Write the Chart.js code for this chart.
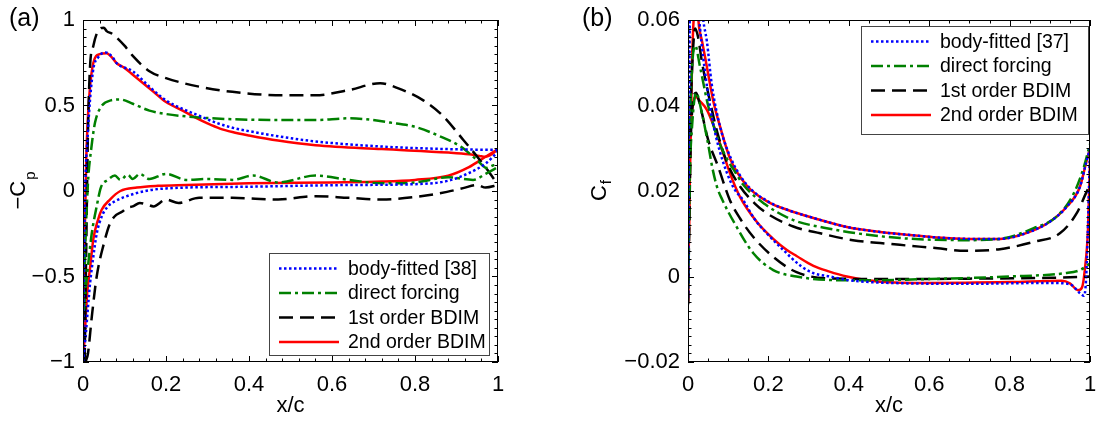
<!DOCTYPE html>
<html>
<head>
<meta charset="utf-8">
<script src="https://cdn.jsdelivr.net/npm/chart.js@4.4.0/dist/chart.umd.min.js"></script>
<style>
  body { margin: 0; background: #fff; }
  #wrap { position: relative; width: 1097px; height: 423px; }
  canvas { position: absolute; top: 0; }
  #chartA { left: 0; }
  #chartB { left: 548px; }
</style>
</head>
<body>
<div id="wrap">
  <canvas id="chartA" width="548" height="423"></canvas>
  <canvas id="chartB" width="549" height="423"></canvas>
</div>
<script>
/* ---- panel (a): -Cp along the chord, upper and lower surface ---- */
const cpBodyUpX = [0, 0.004, 0.012, 0.024, 0.036, 0.055, 0.072, 0.08, 0.12, 0.16, 0.2, 0.24, 0.28, 0.32, 0.36, 0.4, 0.47, 0.56, 0.72, 0.88, 1.0];
const cpBodyUpY = [-1, -0.14, 0.35, 0.70, 0.78, 0.81, 0.78, 0.75, 0.70, 0.61, 0.53, 0.48, 0.44, 0.40, 0.37, 0.35, 0.32, 0.29, 0.26, 0.245, 0.24];
const cpBodyLoX = [0, 0.007, 0.012, 0.017, 0.024, 0.033, 0.045, 0.06, 0.077, 0.1, 0.15, 0.2, 0.4, 0.64, 0.8, 0.88, 0.93, 0.97, 1.0];
const cpBodyLoY = [-1, -0.83, -0.68, -0.54, -0.40, -0.25, -0.15, -0.09, -0.06, -0.035, 0.0, 0.015, 0.025, 0.035, 0.04, 0.06, 0.105, 0.16, 0.23];

const cpDirectUpX = [0.002, 0.006, 0.012, 0.02, 0.029, 0.043, 0.067, 0.09, 0.12, 0.16, 0.2, 0.28, 0.36, 0.47, 0.56, 0.64, 0.68, 0.74, 0.8, 0.86, 0.91, 0.95, 0.973, 0.99, 1.0];
const cpDirectUpY = [-0.7, -0.3, 0.05, 0.25, 0.40, 0.49, 0.53, 0.535, 0.51, 0.47, 0.45, 0.43, 0.42, 0.415, 0.415, 0.425, 0.42, 0.40, 0.375, 0.32, 0.26, 0.18, 0.135, 0.15, 0.15];
const cpDirectLoX = [0.002, 0.007, 0.012, 0.021, 0.033, 0.043, 0.06, 0.077, 0.09, 0.108, 0.12, 0.137, 0.16, 0.2, 0.25, 0.3, 0.36, 0.41, 0.47, 0.56, 0.64, 0.72, 0.8, 0.88, 0.94, 0.97, 1.0];
const cpDirectLoY = [-0.7, -0.56, -0.44, -0.25, -0.09, 0.02, 0.065, 0.09, 0.065, 0.095, 0.07, 0.10, 0.07, 0.10, 0.065, 0.07, 0.065, 0.09, 0.05, 0.09, 0.065, 0.045, 0.05, 0.08, 0.065, 0.1, 0.14];

const cpFirstUpX = [0.004, 0.008, 0.012, 0.017, 0.025, 0.033, 0.041, 0.05, 0.057, 0.07, 0.08, 0.1, 0.12, 0.16, 0.2, 0.28, 0.36, 0.48, 0.56, 0.64, 0.716, 0.76, 0.82, 0.867, 0.916, 0.95, 0.98, 1.0];
const cpFirstUpY = [-1, -0.3, 0.35, 0.73, 0.85, 0.92, 0.95, 0.955, 0.935, 0.92, 0.90, 0.85, 0.79, 0.70, 0.66, 0.61, 0.58, 0.56, 0.56, 0.59, 0.63, 0.60, 0.53, 0.44, 0.30, 0.20, 0.105, 0.035];
const cpFirstLoX = [0.006, 0.012, 0.021, 0.033, 0.05, 0.065, 0.08, 0.095, 0.105, 0.12, 0.137, 0.155, 0.17, 0.2, 0.23, 0.28, 0.36, 0.47, 0.56, 0.64, 0.72, 0.8, 0.877, 0.916, 0.95, 0.97, 1.0];
const cpFirstLoY = [-1, -0.95, -0.74, -0.50, -0.31, -0.19, -0.14, -0.12, -0.10, -0.09, -0.07, -0.08, -0.09, -0.05, -0.07, -0.04, -0.04, -0.05, -0.03, -0.04, -0.05, -0.035, -0.005, 0.017, 0.035, 0.02, 0.035];

const cpSecondUpX = [0, 0.003, 0.008, 0.015, 0.025, 0.04, 0.057, 0.07, 0.08, 0.1, 0.12, 0.145, 0.17, 0.2, 0.24, 0.27, 0.3, 0.33, 0.36, 0.4, 0.47, 0.56, 0.72, 0.88, 0.93, 0.955, 0.97, 0.985, 1.0];
const cpSecondUpY = [-1, -0.4, 0.2, 0.55, 0.75, 0.80, 0.805, 0.78, 0.75, 0.72, 0.68, 0.63, 0.58, 0.52, 0.47, 0.43, 0.395, 0.365, 0.345, 0.325, 0.295, 0.268, 0.245, 0.225, 0.215, 0.205, 0.20, 0.215, 0.245];
const cpSecondLoX = [0, 0.004, 0.01, 0.017, 0.025, 0.036, 0.045, 0.065, 0.09, 0.13, 0.18, 0.25, 0.4, 0.6, 0.72, 0.8, 0.88, 0.93, 0.97, 1.0];
const cpSecondLoY = [-1, -0.85, -0.6, -0.45, -0.28, -0.17, -0.11, -0.05, 0.0, 0.02, 0.03, 0.035, 0.045, 0.05, 0.055, 0.065, 0.09, 0.14, 0.2, 0.245];

/* ---- panel (b): Cf along the chord ---- */
const cfBodyUpX = [0, 0.002, 0.004, 0.02, 0.035, 0.038, 0.047, 0.059, 0.08, 0.105, 0.146, 0.2, 0.25, 0.312, 0.395, 0.478, 0.552, 0.61, 0.693, 0.776, 0.843, 0.9, 0.942, 0.975, 0.99, 1.0];
const cfBodyUpY = [-0.005, 0.03, 0.07, 0.08, 0.063, 0.06, 0.055, 0.045, 0.035, 0.028, 0.0215, 0.0175, 0.0155, 0.0137, 0.0116, 0.0104, 0.0097, 0.0092, 0.0088, 0.0088, 0.0102, 0.0128, 0.0163, 0.021, 0.0265, 0.030];
const cfBodyLoX = [0, 0.002, 0.005, 0.02, 0.03, 0.045, 0.06, 0.08, 0.112, 0.137, 0.165, 0.196, 0.237, 0.28, 0.312, 0.353, 0.395, 0.5, 0.7, 0.9, 0.95, 0.975, 0.985, 0.99, 0.995, 1.0];
const cfBodyLoY = [-0.004, 0.03, 0.064, 0.07, 0.058, 0.046, 0.037, 0.029, 0.021, 0.0179, 0.0135, 0.0101, 0.0062, 0.0025, 0.0008, 0.0, -0.0008, -0.0015, -0.0017, -0.0015, -0.0018, -0.0039, -0.0045, -0.001, 0.012, 0.030];

const cfDirectUpX = [0, 0.004, 0.008, 0.018, 0.03, 0.05, 0.075, 0.1, 0.117, 0.137, 0.19, 0.262, 0.345, 0.42, 0.527, 0.61, 0.69, 0.776, 0.86, 0.917, 0.96, 0.985, 1.0];
const cfDirectUpY = [-0.003, 0.03, 0.045, 0.054, 0.049, 0.040, 0.032, 0.027, 0.0245, 0.0215, 0.017, 0.0132, 0.0113, 0.0101, 0.009, 0.0086, 0.0085, 0.0088, 0.0113, 0.014, 0.0195, 0.0257, 0.031];
const cfDirectLoX = [0, 0.005, 0.01, 0.02, 0.035, 0.05, 0.06, 0.072, 0.085, 0.121, 0.162, 0.212, 0.27, 0.345, 0.42, 0.6, 0.8, 0.94, 0.975, 1.0];
const cfDirectLoY = [-0.003, 0.025, 0.035, 0.043, 0.038, 0.031, 0.0257, 0.021, 0.018, 0.0116, 0.0055, 0.0015, 0.0, -0.0008, -0.0009, -0.0006, 0.0, 0.0008, 0.0015, 0.003];

const cfFirstUpX = [0, 0.006, 0.012, 0.018, 0.025, 0.035, 0.05, 0.075, 0.1, 0.13, 0.167, 0.196, 0.262, 0.329, 0.41, 0.527, 0.61, 0.69, 0.776, 0.86, 0.925, 0.967, 0.99, 1.0];
const cfFirstUpY = [-0.0065, 0.035, 0.052, 0.058, 0.056, 0.050, 0.043, 0.033, 0.026, 0.021, 0.017, 0.0148, 0.0117, 0.0101, 0.0085, 0.0074, 0.0067, 0.006, 0.0064, 0.0081, 0.0101, 0.0148, 0.0195, 0.0215];
const cfFirstLoX = [0, 0.008, 0.02, 0.03, 0.05, 0.075, 0.104, 0.13, 0.162, 0.212, 0.27, 0.345, 0.5, 0.7, 0.9, 1.0];
const cfFirstLoY = [-0.0065, 0.035, 0.043, 0.040, 0.032, 0.0257, 0.0179, 0.0135, 0.0093, 0.0046, 0.001, -0.0004, -0.0006, -0.0005, -0.0003, 0.0];

const cfSecondUpX = [0, 0.004, 0.01, 0.016, 0.022, 0.028, 0.035, 0.047, 0.063, 0.08, 0.105, 0.146, 0.2, 0.25, 0.312, 0.395, 0.478, 0.552, 0.61, 0.693, 0.776, 0.843, 0.9, 0.942, 0.975, 0.99, 1.0];
const cfSecondUpY = [-0.006, 0.02, 0.05, 0.062, 0.063, 0.058, 0.055, 0.049, 0.041, 0.035, 0.0275, 0.0213, 0.0174, 0.0155, 0.0137, 0.0116, 0.0104, 0.0097, 0.0092, 0.0088, 0.0088, 0.0102, 0.0128, 0.0163, 0.021, 0.0265, 0.030];
const cfSecondLoX = [0, 0.005, 0.012, 0.02, 0.03, 0.047, 0.065, 0.08, 0.105, 0.129, 0.171, 0.212, 0.246, 0.27, 0.312, 0.35, 0.395, 0.478, 0.6, 0.8, 0.93, 0.95, 0.97, 0.98, 0.987, 0.995, 1.0];
const cfSecondLoY = [-0.006, 0.03, 0.040, 0.042, 0.041, 0.039, 0.035, 0.031, 0.024, 0.0187, 0.0128, 0.0088, 0.0062, 0.0048, 0.0025, 0.0012, 0.0, -0.0012, -0.0015, -0.0013, -0.001, -0.0016, -0.0032, -0.0026, 0.0015, 0.011, 0.027];

/* axis ticks */
const xTicks = [0, 0.2, 0.4, 0.6, 0.8, 1];
const cpTicks = [-1, -0.5, 0, 0.5, 1];
const cfTicks = [-0.02, 0, 0.02, 0.04, 0.06];

const legendA = ['body-fitted [38]', 'direct forcing', '1st order BDIM', '2nd order BDIM'];
const legendB = ['body-fitted [37]', 'direct forcing', '1st order BDIM', '2nd order BDIM'];

const FONT = 'Liberation Sans, Arial, sans-serif';

/* line styles per method, in legend order */
const STYLES = [
    {color: '#0000ff', dash: [2.5, 2.5]},
    {color: '#008000', dash: [12, 4, 3, 4]},
    {color: '#000000', dash: [14, 7]},
    {color: '#ff0000', dash: []},
];

function points(xs, ys) {
    return xs.map((x, i) => ({x: x, y: ys[i]}));
}

function curveSet(style, xs, ys) {
    return {
        data: points(xs, ys),
        showLine: true,
        pointRadius: 0,
        borderColor: style.color,
        borderDash: style.dash,
        borderWidth: 2.5,
        cubicInterpolationMode: 'monotone',
        fill: false,
        clip: 0,
    };
}

function fmt(v) {
    return String(Math.round(v * 10000) / 10000).replace('-', '\u2212');
}

/* box, inward major/minor ticks on all four sides, titles and legend */
const framePlugin = {
    id: 'frame',
    afterDatasetsDraw(chart, args, opts) {
        const {ctx, chartArea: a, scales} = chart;
        ctx.save();
        ctx.strokeStyle = '#000';
        ctx.lineWidth = 1;
        ctx.beginPath();
        const sx = scales.x, sy = scales.y;
        for (let v = sx.min; v <= sx.max + 1e-9; v += opts.xMinor) {
            const major = xTicks.some(t => Math.abs(t - v) < 1e-6);
            const len = major ? 6 : 3.5;
            const px = Math.round(sx.getPixelForValue(v)) + 0.5;
            ctx.moveTo(px, a.bottom); ctx.lineTo(px, a.bottom - len);
            ctx.moveTo(px, a.top); ctx.lineTo(px, a.top + len);
        }
        const yt = opts.yTicks;
        for (let v = sy.min; v <= sy.max + 1e-9; v += opts.yMinor) {
            const major = yt.some(t => Math.abs(t - v) < opts.yMinor / 100);
            const len = major ? 6 : 3.5;
            const py = Math.round(sy.getPixelForValue(v)) + 0.5;
            ctx.moveTo(a.left, py); ctx.lineTo(a.left + len, py);
            ctx.moveTo(a.right, py); ctx.lineTo(a.right - len, py);
        }
        ctx.stroke();
        ctx.strokeRect(Math.round(a.left) + 0.5, Math.round(a.top) + 0.5,
            Math.round(a.width) - 1, Math.round(a.height) - 1);
        ctx.restore();
    },
    afterDraw(chart, args, opts) {
        const {ctx, chartArea: a} = chart;
        ctx.save();
        ctx.fillStyle = '#000';

        // panel letter
        ctx.font = '25px ' + FONT;
        ctx.textBaseline = 'alphabetic';
        ctx.fillText(opts.panel, opts.panelX, 26);

        // y title with subscript, rotated
        ctx.translate(opts.titleX, (a.top + a.bottom) / 2);
        ctx.rotate(-Math.PI / 2);
        ctx.font = '22px ' + FONT;
        const wMain = ctx.measureText(opts.title).width;
        ctx.font = '15px ' + FONT;
        const wSub = ctx.measureText(opts.sub).width;
        const x0 = -(wMain + wSub) / 2;
        ctx.font = '22px ' + FONT;
        ctx.fillText(opts.title, x0, 0);
        ctx.font = '15px ' + FONT;
        ctx.fillText(opts.sub, x0 + wMain + 1, opts.subDrop);
        ctx.restore();

        // legend box
        const b = opts.legendBox;
        const left = b.right ? a.right - b.right - b.w : a.left + b.left;
        const top = b.bottom ? a.bottom - b.bottom - b.h : a.top + b.top;
        ctx.save();
        ctx.fillStyle = '#fff';
        ctx.fillRect(left, top, b.w, b.h);
        ctx.strokeStyle = '#444';
        ctx.lineWidth = 1;
        ctx.strokeRect(Math.round(left) + 0.5, Math.round(top) + 0.5, b.w, b.h);
        ctx.font = '19.5px ' + FONT;
        ctx.textBaseline = 'middle';
        opts.labels.forEach((label, i) => {
            const y = top + 15.5 + i * 24.5;
            const st = STYLES[i];
            ctx.strokeStyle = st.color;
            ctx.lineWidth = 2.5;
            ctx.setLineDash(st.dash);
            ctx.beginPath();
            ctx.moveTo(left + 10, y);
            ctx.lineTo(left + 70, y);
            ctx.stroke();
            ctx.setLineDash([]);
            ctx.fillStyle = '#000';
            ctx.fillText(label, left + 79, y + 1);
        });
        ctx.restore();
    }
};

function makeChart(id, curves, cfg) {
    const datasets = curves.map(c => curveSet(STYLES[c[0]], c[1], c[2]));
    return new Chart(document.getElementById(id), {
        type: 'scatter',
        data: {datasets: datasets},
        options: {
            responsive: false,
            animation: false,
            layout: {padding: {left: 0, top: 20, right: cfg.padRight, bottom: 0}},
            plugins: {
                legend: {display: false},
                tooltip: {enabled: false},
                frame: cfg.frame,
            },
            scales: {
                x: {
                    type: 'linear',
                    min: 0,
                    max: 1,
                    afterFit: (s) => {
                        s.height = 61;
                        s.paddingLeft = 0;
                        s.paddingRight = 0;
                    },
                    afterBuildTicks: (s) => { s.ticks = xTicks.map(v => ({value: v})); },
                    grid: {display: false, drawTicks: false},
                    border: {display: false},
                    ticks: {
                        color: '#000',
                        font: {family: FONT, size: 22},
                        padding: 10,
                        maxRotation: 0,
                        autoSkip: false,
                        callback: fmt,
                    },
                    title: {
                        display: true,
                        text: 'x/c',
                        color: '#000',
                        font: {family: FONT, size: 22},
                        padding: {top: 0, bottom: 4},
                    },
                },
                y: {
                    type: 'linear',
                    min: cfg.yMin,
                    max: cfg.yMax,
                    afterFit: (s) => {
                        s.width = cfg.yWidth;
                        s.paddingTop = 0;
                        s.paddingBottom = 0;
                    },
                    afterBuildTicks: (s) => { s.ticks = cfg.yTicks.map(v => ({value: v})); },
                    grid: {display: false, drawTicks: false},
                    border: {display: false},
                    ticks: {
                        color: '#000',
                        font: {family: FONT, size: 22},
                        padding: 8,
                        autoSkip: false,
                        callback: fmt,
                    },
                },
            },
        },
        plugins: [framePlugin],
    });
}

/* body-fitted is listed first so it is painted on top */
makeChart('chartA', [
    [0, cpBodyUpX, cpBodyUpY], [0, cpBodyLoX, cpBodyLoY],
    [1, cpDirectUpX, cpDirectUpY], [1, cpDirectLoX, cpDirectLoY],
    [2, cpFirstUpX, cpFirstUpY], [2, cpFirstLoX, cpFirstLoY],
    [3, cpSecondUpX, cpSecondUpY], [3, cpSecondLoX, cpSecondLoY],
], {
    yMin: -1, yMax: 1, yTicks: cpTicks, yWidth: 83, padRight: 50,
    frame: {
        xMinor: 0.04, yMinor: 0.05, yTicks: cpTicks,
        panel: '(a)', panelX: 9, title: '\u2212C', sub: 'p', subDrop: 10, titleX: 25,
        labels: legendA, legendBox: {right: 9, bottom: 7, w: 220, h: 102},
    },
});

makeChart('chartB', [
    [0, cfBodyUpX, cfBodyUpY], [0, cfBodyLoX, cfBodyLoY],
    [1, cfDirectUpX, cfDirectUpY], [1, cfDirectLoX, cfDirectLoY],
    [2, cfFirstUpX, cfFirstUpY], [2, cfFirstLoX, cfFirstLoY],
    [3, cfSecondUpX, cfSecondUpY], [3, cfSecondLoX, cfSecondLoY],
], {
    yMin: -0.02, yMax: 0.06, yTicks: cfTicks, yWidth: 140, padRight: 7,
    frame: {
        xMinor: 0.05, yMinor: 0.002, yTicks: cfTicks,
        panel: '(b)', panelX: 34, title: 'C', sub: 'f', subDrop: 5, titleX: 58,
        labels: legendB, legendBox: {right: 2, top: 6, w: 227, h: 108},
    },
});
</script>
</body>
</html>
